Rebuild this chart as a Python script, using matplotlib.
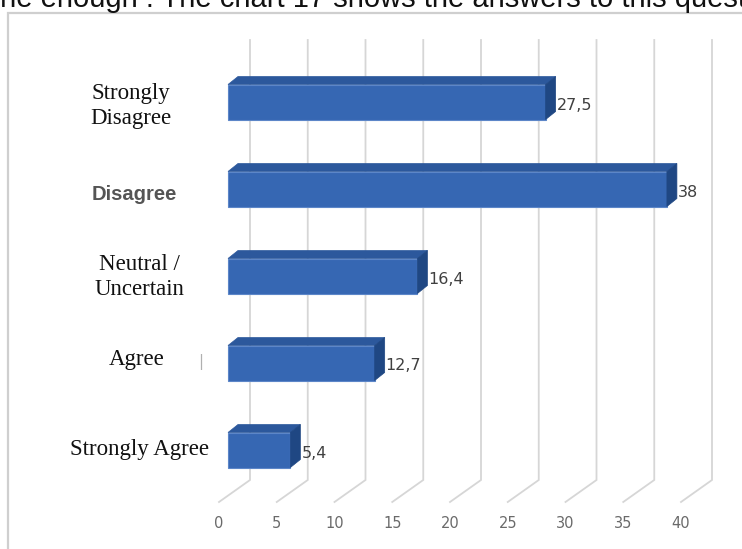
import matplotlib.pyplot as plt
from matplotlib.patches import Polygon, Rectangle

categories = ["Strongly\nDisagree", "Disagree", "Neutral /\nUncertain", "Agree", "Strongly Agree"]
values = [27.5, 38, 16.4, 12.7, 5.4]
value_labels = ["27,5", "38", "16,4", "12,7", "5,4"]
ticks = [0, 5, 10, 15, 20, 25, 30, 35, 40]

# pixel scale of the drawing (value units and category rows)
PX_X = 11.55
PX_Y = 87.0
X0_PX = 228
Y0_PX = 102

fig = plt.figure(figsize=(7.42, 5.49), dpi=100)
ax = fig.add_axes([0, 0, 1, 1])
ax.set_xlim(-X0_PX / PX_X, (742 - X0_PX) / PX_X)
ax.set_ylim((549 - Y0_PX) / PX_Y, -Y0_PX / PX_Y)
ax.axis('off')

def px_x(p):
    return p / PX_X

def px_y(p):
    return p / PX_Y

# outer frame
fig.patches.append(Rectangle((8 / 742, -0.05), 1.0, 1.05 - 13 / 549,
                             transform=fig.transFigure, fill=False,
                             edgecolor='#cfcfcf', lw=1.6))

# text above the chart, running off the top edge
fig.text(-8 / 742, 1 - 7 / 549, "the enough : The chart 17 shows the answers to this question",
         fontsize=21, family='Liberation Sans', color='#111111', va='baseline', ha='left')

# back wall gridlines with floor diagonals
wall_dx = px_x(22)
top_y = px_y(40 - Y0_PX)
floor_y = px_y(480 - Y0_PX)
front_y = px_y(502 - Y0_PX)
for t in ticks:
    xb = t + wall_dx
    ax.plot([xb, xb, xb - px_x(31)], [top_y, floor_y, front_y],
            color='#d6d6d6', lw=1.3, zorder=1, solid_joinstyle='miter')
    ax.text(t - px_x(9), px_y(524 - Y0_PX), str(t), ha='center', va='center',
            fontsize=10.5, color='#6a6a6a', family='DejaVu Sans')

# 3D bars
h = px_y(35)
dx = px_x(10)
dy = -px_y(8)
for i, (v, lab) in enumerate(zip(values, value_labels)):
    top = i - h / 2
    bot = i + h / 2
    front = Polygon([(0, top), (v, top), (v, bot), (0, bot)], closed=True,
                    facecolor='#3667b3', edgecolor='#5c86c8', lw=0.8, zorder=3)
    lid = Polygon([(0, top), (dx, top + dy), (v + dx, top + dy), (v, top)], closed=True,
                  facecolor='#2c589c', edgecolor='#2c589c', lw=0.5, zorder=3)
    side = Polygon([(v, top), (v + dx, top + dy), (v + dx, bot + dy), (v, bot)], closed=True,
                   facecolor='#1f4783', edgecolor='#1f4783', lw=0.5, zorder=3)
    for p in (front, lid, side):
        ax.add_patch(p)
    ax.text(v + dx + px_x(1), i + px_y(3), lab, ha='left', va='center',
            fontsize=11.5, color='#404040', family='DejaVu Sans', zorder=4)

# category labels
label_x = [131, 134, 139, 137, 140]
label_y = [106, 195, 277, 360, 449]
for c, lx, ly in zip(categories, label_x, label_y):
    if c == "Disagree":
        ax.text(px_x(lx - X0_PX), px_y(ly - Y0_PX), c, ha='center', va='center',
                fontsize=14.5, color='#555555', family='Liberation Sans', fontweight='bold')
    else:
        ax.text(px_x(lx - X0_PX), px_y(ly - Y0_PX), c, ha='center', va='center',
                fontsize=16.5, color='#111111', family='Liberation Serif', linespacing=1.2)

# stray cursor mark beside "Agree"
ax.text(px_x(201 - X0_PX), 3 - px_y(1), "|", ha='center', va='center',
        fontsize=11, color='#b0b0b0', family='DejaVu Sans')

fig.savefig('out.png', dpi=100)
